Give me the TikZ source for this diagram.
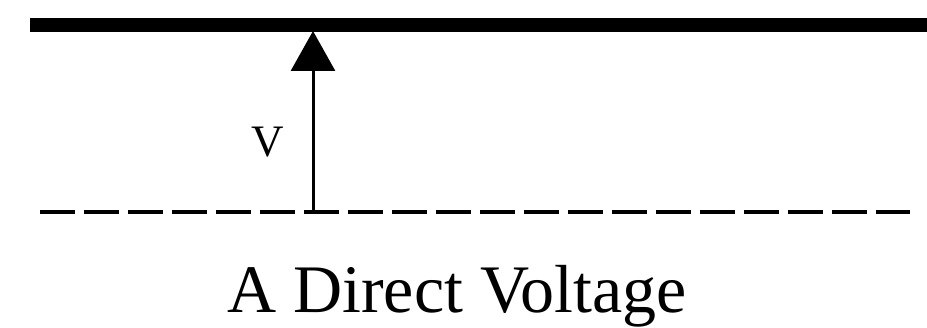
\documentclass[tikz,border=0pt]{standalone}
\usepackage{fontspec}
\setmainfont{Liberation Serif}
\usetikzlibrary{arrows.meta}
\begin{document}
\begin{tikzpicture}[x=1pt,y=1pt,
  rail/.style={line width=14pt},
  ground/.style={line width=3.5pt,dash pattern=on 35pt off 9pt},
  volt/.style={line width=3pt,-{Triangle[length=40pt,width=44pt]}},
  lbl/.style={font=\fontsize{45}{48}\selectfont,inner sep=0pt},
  title/.style={font=\fontsize{68}{72}\selectfont,inner sep=0pt,anchor=base}]
\useasboundingbox (0,0) rectangle (927,328);
\fill[white] (0,0) rectangle (927,328);
\coordinate (topL) at (30,303);
\coordinate (topR) at (927,303);
\coordinate (botL) at (40,116);
\coordinate (botR) at (910,116);
\coordinate (vfoot) at (313,116);
\coordinate (vtip) at (313,297);
\draw[rail] (topL) -- (topR);
\draw[ground] (botL) -- (botR);
\draw[volt] (vfoot) -- (vtip);
\node[lbl] (v) at (268,186) {V};
\node[title] (cap) at (457,15) {A Direct Voltage};
\end{tikzpicture}
\end{document}
